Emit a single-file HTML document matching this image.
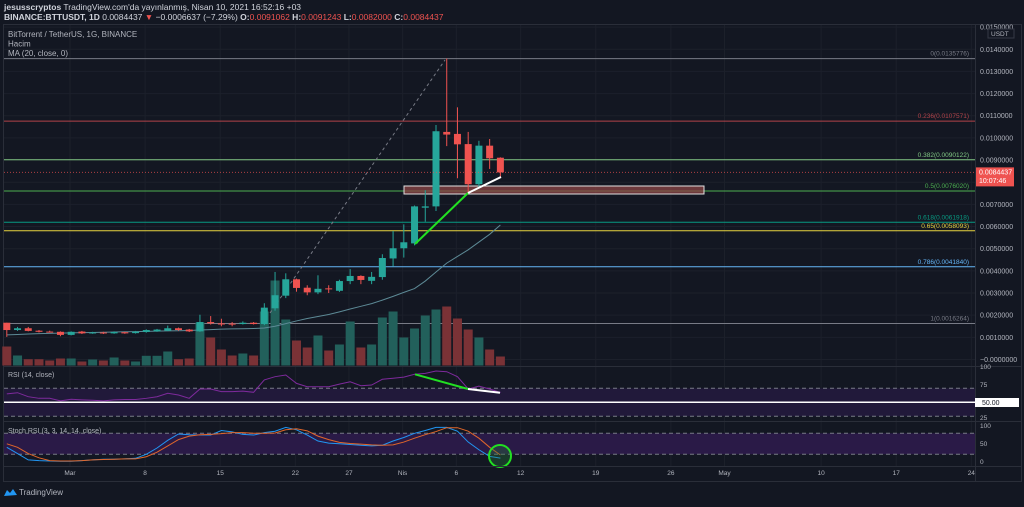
<!DOCTYPE html>
<html><head><meta charset="utf-8"><style>
body{margin:0;background:#131722;width:1024px;height:502px;overflow:hidden;font-family:"Liberation Sans",sans-serif}
svg text{font-family:"Liberation Sans",sans-serif}
</style></head><body>
<svg id="c" width="1024" height="502" xmlns="http://www.w3.org/2000/svg">
<rect x="0" y="0" width="1024" height="502" fill="#131722"/>
<text x="4" y="10" font-size="8.5" fill="#d1d4dc"><tspan font-weight="bold">jesusscryptos</tspan> TradingView.com'da yayınlanmış, Nisan 10, 2021 16:52:16 +03</text>
<text x="4" y="20" font-size="8.5" fill="#d1d4dc" font-weight="bold">BINANCE:BTTUSDT, 1D <tspan font-weight="normal">0.0084437</tspan> <tspan fill="#ef5350">▼</tspan><tspan font-weight="normal"> −0.0006637 (−7.29%)</tspan> O:<tspan fill="#ef5350" font-weight="normal">0.0091062</tspan> H:<tspan fill="#ef5350" font-weight="normal">0.0091243</tspan> L:<tspan fill="#ef5350" font-weight="normal">0.0082000</tspan> C:<tspan fill="#ef5350" font-weight="normal">0.0084437</tspan></text>
<rect x="3.5" y="24.5" width="1018" height="457" fill="#131722" stroke="#2a2e39"/>
<g id="grid"></g>
<g id="fib"></g>
<g id="vol"></g>
<g id="main"></g>
<g id="ind"></g>
<g id="axes"></g>
<text x="8" y="37" font-size="8" fill="#b2b5be">BitTorrent / TetherUS, 1G, BINANCE</text>
<text x="8" y="46.5" font-size="8" fill="#b2b5be">Hacim</text>
<text x="8" y="56" font-size="8" fill="#b2b5be">MA (20, close, 0)</text>
<text x="8" y="377" font-size="7" fill="#b2b5be">RSI (14, close)</text>
<text x="8" y="433" font-size="7" fill="#b2b5be">Stoch RSI (3, 3, 14, 14, close)</text>
<g><path d="M4 496 L7 490 L10 493 L13 489 L17 495 Z" fill="#2196f3"/><text x="19" y="495" font-size="8" fill="#b2b5be">TradingView</text></g>
</svg>
<script>
const dates=['Feb23','Feb24','Feb25','Feb26','Feb27','Feb28','Mar1','Mar2','Mar3','Mar4','Mar5','Mar6','Mar7','Mar8','Mar9','Mar10','Mar11','Mar12','Mar13','Mar14','Mar15','Mar16','Mar17','Mar18','Mar19','Mar20','Mar21','Mar22','Mar23','Mar24','Mar25','Mar26','Mar27','Mar28','Mar29','Mar30','Mar31','Apr1','Apr2','Apr3','Apr4','Apr5','Apr6','Apr7','Apr8','Apr9','Apr10'];
const open=[1.66,1.33,1.41,1.30,1.26,1.25,1.11,1.26,1.18,1.22,1.18,1.23,1.19,1.24,1.27,1.30,1.41,1.35,1.27,1.69,1.63,1.62,1.60,1.66,1.60,2.31,2.88,3.62,3.24,3.03,3.21,3.10,3.54,3.77,3.55,3.72,4.56,5.02,5.24,6.85,6.91,10.27,10.18,9.72,7.91,9.65,9.1062];
const high=[1.66,1.47,1.47,1.33,1.30,1.27,1.27,1.29,1.25,1.25,1.27,1.25,1.29,1.36,1.38,1.53,1.44,1.38,2.02,1.96,1.84,1.69,1.72,1.69,2.54,3.95,3.89,3.65,3.35,3.80,3.35,3.60,4.08,3.80,3.95,4.75,5.80,6.10,6.95,7.64,10.58,13.58,11.38,10.27,9.87,9.95,9.1243];
const low=[1.02,1.29,1.27,1.22,1.22,1.05,1.09,1.15,1.16,1.15,1.16,1.16,1.17,1.21,1.25,1.28,1.30,1.24,1.25,1.58,1.50,1.50,1.58,1.58,1.55,2.20,2.77,3.06,2.90,2.95,3.00,3.05,3.40,3.40,3.40,3.60,4.20,4.60,5.15,6.22,6.70,9.63,8.18,7.50,7.80,8.60,8.20];
const close=[1.33,1.41,1.29,1.25,1.24,1.11,1.25,1.18,1.22,1.18,1.24,1.18,1.26,1.33,1.35,1.41,1.33,1.27,1.69,1.63,1.58,1.60,1.66,1.60,2.34,2.90,3.62,3.23,3.03,3.19,3.18,3.54,3.77,3.59,3.73,4.58,5.02,5.29,6.91,6.91,10.30,10.15,9.71,7.91,9.65,9.08,8.4437];
const volume=[19,10,6.3,6.3,5,7,7,4,6,5,8,5,4,9.7,9.7,14,6.3,7,43,28,16,10,12,10,54,85,46,25,18,30,15,21,44,18,21,48,54,28,37,50,56,59,47,36,28,16,9];
const ma20=[1.11,1.13,1.15,1.17,1.18,1.19,1.20,1.21,1.22,1.23,1.24,1.25,1.26,1.27,1.28,1.29,1.30,1.31,1.33,1.35,1.37,1.38,1.39,1.40,1.42,1.50,1.62,1.74,1.85,1.94,2.03,2.15,2.28,2.40,2.52,2.68,2.85,3.03,3.20,3.54,3.95,4.35,4.65,4.95,5.30,5.65,6.07];
const rsi=[62,63.7,58,55.7,55.7,52,54.3,53.5,53,52,53.5,54,54,55.7,58,62.9,60.4,55.7,69,69,65.2,65.2,66,64.3,82,86.6,89,77,72.3,72.3,72.3,76,79.4,73.7,74.7,82.9,84.3,86,90,91.4,94.7,93.7,86.6,69,73,69,64];
const stochK=[40,22,4,2,1,0,0,2,4,6,6,7,8.6,20,38,60,78,76,75,75,88,84,77,75,82,86,97,90,75,58,52,50,48,46,44,46,58,68,80,88,97,97,86,55,33,14,9];
const stochD=[50,40,22,10,2,1,1,2,4,5,6,7,7,13,26,44,62,72,76,77,79,82,82,80,80,81,90,93,87,72,62,54,51,49,47,46,47,55,66,76,85,96,96,86,66,40,18];
const fibLevels=['0','0.236','0.382','0.5','0.618','0.65','0.786','1'];
const fibPrices=[13.5776,10.7571,9.0122,7.6020,6.1918,5.8093,4.1840,1.6264];
const fibColors=['#787b86','#b2434a','#81c784','#4caf50','#089981','#e8d33f','#64b5f6','#787b86'];
const priceTicks=[0,1,2,3,4,5,6,7,8,9,10,11,12,13,14,15];
const timeLabels=['Mar','8','15','22','27','Nis','6','12','19','26','May','10','17','24'];
const timeDays=[0,7,14,21,26,31,36,42,49,56,61,70,77,84];
const NS='http://www.w3.org/2000/svg';
const X0=6.8, DX=10.73;
const xi=i=>X0+i*DX;
const xd=d=>70+d*DX;
const yP=p=>359.5-22.16*p;
const yV=v=>365.5-v;
const yR=v=>402.3-(v-50)*0.7;
const yS=v=>454.3-(v-20)*0.35;
function mk(par,tag,at){const e=document.createElementNS(NS,tag);for(const k in at)e.setAttribute(k,at[k]);document.getElementById(par).appendChild(e);return e;}
for(const t of priceTicks){const y=yP(t);if(y<26||y>366)continue;
 const g=mk('grid','line',{x1:4,x2:975,y1:y,y2:y,stroke:'#1c202b'});
 
 }
timeDays.forEach(d=>{const g=mk('grid','line',{x1:xd(d),x2:xd(d),y1:25,y2:466,stroke:'#1c202b'});
 
 });
[[366.5],[421.5],[466.5]].forEach(([y])=>{const l=mk('axes','line',{x1:4,x2:1021,y1:y,y2:y,stroke:'#2a2e39'});
 
 });
const ax=mk('axes','line',{x1:975.5,x2:975.5,y1:25,y2:481,stroke:'#2a2e39'});


fibPrices.forEach((p,i)=>{const y=yP(p);
 const l=mk('fib','line',{x1:4,x2:975,y1:y,y2:y,stroke:fibColors[i],'stroke-width':1});
 
 
 const t=mk('fib','text',{x:969,y:y-3,'font-size':6.5,fill:fibColors[i],'text-anchor':'end'});
 t.textContent=fibLevels[i]+'('+(p/1000).toFixed(7)+')';
 
 });
volume.forEach((v,i)=>{const up=close[i]>=open[i];
 const r=mk('vol','rect',{x:xi(i)-4.5,y:yV(v),width:9,height:v,fill:up?'#22605b':'#7a3236'});
 
 });
const dg=mk('main','line',{x1:270,y1:313,x2:445,y2:60,stroke:'#787b86','stroke-dasharray':'3,3'});


const rz=mk('main','rect',{x:404,y:186,width:300,height:8,fill:'rgba(140,70,70,0.75)',stroke:'#e0e0e0','stroke-width':1});


const mp=mk('main','polyline',{points:ma20.map((v,i)=>xi(i)+','+yP(v)).join(' '),fill:'none',stroke:'#5d8a96','stroke-width':1});


open.forEach((o,i)=>{const c=close[i],up=c>=o,col=up?'#26a69a':'#ef5350',x=xi(i);
 const w=mk('main','line',{x1:x,x2:x,y1:yP(high[i]),y2:yP(low[i]),stroke:col,'stroke-width':1});
 
 
 const t=Math.min(yP(o),yP(c)),h=Math.max(1,Math.abs(yP(o)-yP(c)));
 const b=mk('main','rect',{x:x-3.5,y:t,width:7,height:h,fill:col});
 
 });
const g1=mk('main','line',{x1:415,y1:244,x2:468,y2:193,stroke:'#22e022','stroke-width':2});


const w1=mk('main','line',{x1:468,y1:193,x2:501,y2:177,stroke:'#ffffff','stroke-width':2});


const cy=yP(close[close.length-1]);
const cl=mk('main','line',{x1:4,x2:975,y1:cy,y2:cy,stroke:'#ef5350','stroke-dasharray':'1,2','stroke-opacity':0.7});


for(const t of priceTicks){const y=yP(t);if(y<20||y>366)continue;
 const tx=mk('axes','text',{x:980,y:y+2.5,'font-size':7,fill:'#b2b5be'});
 tx.textContent=t===0?'−0.0000000':(t/1000).toFixed(7);
 
 }
const ub=mk('axes','rect',{x:988,y:29,width:26,height:9,fill:'#131722',stroke:'#363a45'});


const ut=mk('axes','text',{x:991,y:36,'font-size':6.5,fill:'#b2b5be'});ut.textContent='USDT';


const pb=mk('axes','rect',{x:976,y:cy-5,width:38,height:19,fill:'#ef5350'});


const pt=mk('axes','text',{x:979,y:cy+2,'font-size':7,fill:'#fff'});pt.textContent='0.0084437';


const pt2=mk('axes','text',{x:979,y:cy+10.5,'font-size':7,fill:'#fff'});pt2.textContent='10:07:46';


const rb=mk('ind','rect',{x:4,y:yR(70),width:971,height:yR(30)-yR(70),fill:'#21193a'});


[70,30].forEach(v=>{const l=mk('ind','line',{x1:4,x2:975,y1:yR(v),y2:yR(v),stroke:'#787b86','stroke-dasharray':'4,3'});
 
 });
const rl=mk('ind','polyline',{points:rsi.map((v,i)=>xi(i)+','+yR(v)).join(' '),fill:'none',stroke:'#7e2a9c','stroke-width':1});


const r50=mk('ind','line',{x1:4,x2:975,y1:yR(50),y2:yR(50),stroke:'#ffffff','stroke-width':1.5});


const rg=mk('ind','line',{x1:415,y1:374.3,x2:468,y2:389,stroke:'#22e022','stroke-width':2});


const rw=mk('ind','line',{x1:468,y1:389,x2:500,y2:392.7,stroke:'#ffffff','stroke-width':2});


[['100',369],['75',387],['25',420]].forEach(([s,y])=>{const t=mk('axes','text',{x:980,y:y,'font-size':6.5,fill:'#b2b5be'});t.textContent=s;
 
 });
const lb=mk('axes','rect',{x:975,y:398,width:44,height:9,fill:'#fff'});


const lt=mk('axes','text',{x:982,y:405,'font-size':7,fill:'#131722'});lt.textContent='50.00';


const sb=mk('ind','rect',{x:4,y:yS(80),width:971,height:yS(20)-yS(80),fill:'#2a1a47'});


[80,20].forEach(v=>{const l=mk('ind','line',{x1:4,x2:975,y1:yS(v),y2:yS(v),stroke:'#787b86','stroke-dasharray':'4,3'});
 
 });
const sk=mk('ind','polyline',{points:stochK.map((v,i)=>xi(i)+','+yS(v)).join(' '),fill:'none',stroke:'#2196f3','stroke-width':1});


const sd=mk('ind','polyline',{points:stochD.map((v,i)=>xi(i)+','+yS(v)).join(' '),fill:'none',stroke:'#e0662a','stroke-width':1});


const gc=mk('ind','circle',{cx:500,cy:456,r:11,fill:'rgba(40,120,60,0.35)',stroke:'#22e022','stroke-width':2});


[['100',428],['50',446],['0',464]].forEach(([s,y])=>{const t=mk('axes','text',{x:980,y:y,'font-size':6.5,fill:'#b2b5be'});t.textContent=s;
 
 });
timeLabels.forEach((s,i)=>{const t=mk('axes','text',{x:xd(timeDays[i]),y:475,'font-size':6.5,fill:'#b2b5be','text-anchor':'middle'});t.textContent=s;
 
 });
</script>
</body></html>
